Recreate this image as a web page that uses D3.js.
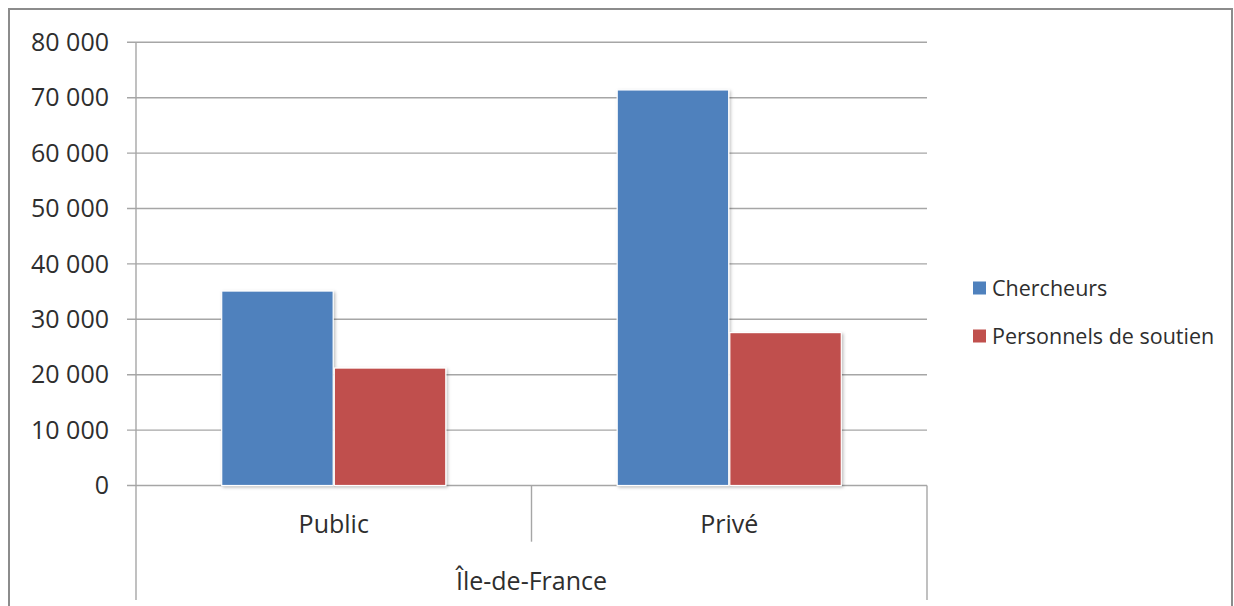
<!DOCTYPE html>
<html>
<head>
<meta charset="utf-8">
<script src="https://cdn.jsdelivr.net/npm/d3@7"></script>
<style>
  html, body { margin: 0; padding: 0; background: #fff; }
  svg { display: block; }
  text { font-family: "Open Sans", sans-serif; fill: #2e2e2e; }
</style>
</head>
<body>
<svg id="chart" width="1234" height="606"></svg>
<script>
const categories = ["Public", "Privé"];
const groupLabel = "Île-de-France";
const seriesNames = ["Chercheurs", "Personnels de soutien"];
const chercheurs = [35100, 71400];
const personnels = [21200, 27600];
const yTicks = [0, 10000, 20000, 30000, 40000, 50000, 60000, 70000, 80000];
const colors = ["#4f81bd", "#c0504d"];

const seriesValues = [chercheurs, personnels];
const svg = d3.select("#chart");

// frame
svg.append("path")
  .attr("d", "M9,607 V9 H1232 V607")
  .attr("fill", "none").attr("stroke", "#8c8c8c").attr("stroke-width", 2);

const plotLeft = 136, plotRight = 927, plotTop = 42.3, plotBottom = 485.5;
const y = d3.scaleLinear().domain([0, 80000]).range([plotBottom, plotTop]);
const x0 = d3.scaleBand().domain(categories).range([plotLeft, plotRight]);
const outerGap = 85.7;
const x1 = d3.scaleBand().domain(seriesNames).range([outerGap, x0.bandwidth() - outerGap]).paddingInner(0.01);

const fmt = v => d3.format(",")(v).replace(/,/g, " ");

// gridlines
svg.append("g").selectAll("line").data(yTicks).join("line")
  .attr("x1", plotLeft - 9).attr("x2", plotRight)
  .attr("y1", d => y(d)).attr("y2", d => y(d))
  .attr("stroke", "#a6a6a6").attr("stroke-width", 1.4);

// y axis line
svg.append("line")
  .attr("x1", plotLeft).attr("x2", plotLeft)
  .attr("y1", plotTop).attr("y2", 600)
  .attr("stroke", "#a6a6a6").attr("stroke-width", 1.4);

// y labels
svg.append("g").selectAll("text").data(yTicks).join("text")
  .attr("x", 109).attr("y", d => y(d))
  .attr("dy", "0.35em")
  .attr("text-anchor", "end")
  .attr("font-size", 25)
  .text(fmt);

// category separators
const seps = [
  { x: x0("Privé"), y2: 541.7 },
  { x: plotRight, y2: 600 }
];
svg.append("g").selectAll("line").data(seps).join("line")
  .attr("x1", d => d.x).attr("x2", d => d.x)
  .attr("y1", plotBottom).attr("y2", d => d.y2)
  .attr("stroke", "#a6a6a6").attr("stroke-width", 1.4);

// shadow filter
const defs = svg.append("defs");
const f = defs.append("filter").attr("id", "sh").attr("x", "-10%").attr("y", "-10%").attr("width", "130%").attr("height", "130%");
f.append("feDropShadow").attr("dx", 1.5).attr("dy", 1.5).attr("stdDeviation", 1.5)
  .attr("flood-color", "#000").attr("flood-opacity", 0.25);

// bars
const data = [];
categories.forEach((c, i) => seriesNames.forEach((s, j) => data.push({ c, s, v: seriesValues[j][i], j })));
svg.append("g").selectAll("rect").data(data).join("rect")
  .attr("x", d => x0(d.c) + x1(d.s))
  .attr("y", d => y(d.v))
  .attr("width", x1.bandwidth())
  .attr("height", d => y(0) - y(d.v))
  .attr("fill", d => colors[d.j])
  .attr("stroke", "#fff").attr("stroke-width", 1.2)
  .attr("filter", "url(#sh)");

// category labels
svg.append("g").selectAll("text").data(categories).join("text")
  .attr("x", d => x0(d) + x0.bandwidth() / 2)
  .attr("y", 533)
  .attr("text-anchor", "middle")
  .attr("font-size", 25)
  .text(d => d);

svg.append("text")
  .attr("x", (plotLeft + plotRight) / 2).attr("y", 590)
  .attr("text-anchor", "middle").attr("font-size", 25)
  .text(groupLabel);

// legend
const lg = svg.append("g").selectAll("g").data(seriesNames).join("g")
  .attr("transform", (d, i) => `translate(973, ${288 + i * 48})`);
lg.append("rect").attr("x", 0).attr("y", -6.5).attr("width", 13).attr("height", 13)
  .attr("fill", (d, i) => colors[i]);
lg.append("text").attr("x", 19).attr("y", 0).attr("dy", "0.36em")
  .attr("font-size", 21.5).text(d => d);
</script>
</body>
</html>
